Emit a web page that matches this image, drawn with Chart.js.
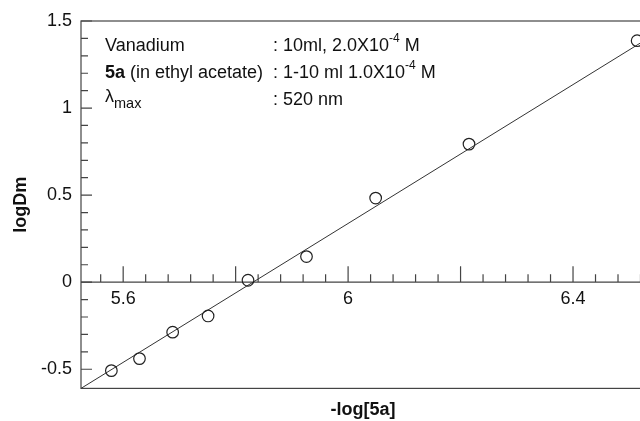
<!DOCTYPE html>
<html>
<head>
<meta charset="utf-8">
<script src="https://cdn.jsdelivr.net/npm/chart.js@4.4.0/dist/chart.umd.min.js"></script>
<style>
html, body { margin: 0; padding: 0; overflow: hidden; background: #fff; }
canvas { display: block; }
</style>
</head>
<body>
<canvas id="grafico" width="652" height="421"></canvas>
<script>
const xValores = [5.579, 5.629, 5.688, 5.751, 5.822, 5.926, 6.049, 6.215, 6.514]
const yValores = [-0.508, -0.439, -0.287, -0.194, 0.011, 0.147, 0.483, 0.793, 1.387]

// Extremos de la recta de ajuste
const ajusteX = [5.525, 6.528]
const ajusteY = [-0.61, 1.39]

// Etiquetas de los ejes
const xEtiquetas = [5.6, 6, 6.4]
const yEtiquetas = [-0.5, 0, 0.5, 1, 1.5]

const fuente = '"Liberation Sans", Arial, sans-serif'
const colorTexto = '#111'
const colorEje = '#444'

//Plugin para el marco, las marcas de los ejes y el texto
const marco = {
    id: 'marco',
    beforeDatasetsDraw(chart) {
        const { ctx, chartArea: a, scales: { x, y } } = chart
        ctx.save()
        ctx.strokeStyle = colorEje
        ctx.lineWidth = 1.2
        ctx.strokeRect(a.left, a.top, a.right - a.left, a.bottom - a.top)

        // marcas del eje y, hacia adentro
        ctx.beginPath()
        for (let i = -5; i <= 15; i++) {
            const py = y.getPixelForValue(i / 10)
            const largo = i % 5 === 0 ? 11 : 7
            ctx.moveTo(a.left, py)
            ctx.lineTo(a.left + largo, py)
        }
        ctx.stroke()

        // eje x cruzando en logDm = 0
        const y0 = y.getPixelForValue(0)
        ctx.beginPath()
        ctx.moveTo(a.left, y0)
        ctx.lineTo(a.right, y0)
        for (let i = 139; i <= 163; i++) {
            const v = i * 0.04
            if (v < x.min || v > x.max) continue
            const px = x.getPixelForValue(v)
            const largo = i % 5 === 0 ? 16 : 8
            ctx.moveTo(px, y0)
            ctx.lineTo(px, y0 - largo)
        }
        ctx.stroke()

        ctx.fillStyle = colorTexto
        ctx.font = '18px ' + fuente
        ctx.textAlign = 'center'
        ctx.textBaseline = 'alphabetic'
        xEtiquetas.forEach(v => {
            ctx.fillText(String(v), x.getPixelForValue(v), y0 + 22)
        })
        ctx.restore()
    },
    afterDraw(chart) {
        const { ctx } = chart
        ctx.save()
        ctx.fillStyle = colorTexto
        ctx.textAlign = 'left'
        ctx.textBaseline = 'alphabetic'
        const normal = '18px ' + fuente
        const chica = '12px ' + fuente

        const escribir = (texto, px, py, font) => {
            ctx.font = font
            ctx.fillText(texto, px, py)
            return px + ctx.measureText(texto).width
        }

        const col1 = 105
        const col2 = 273

        // linea 1
        escribir('Vanadium', col1, 51, normal)
        let px = escribir(': 10ml, 2.0X10', col2, 51, normal)
        px = escribir('-4', px, 42, chica)
        escribir(' M', px, 51, normal)

        // linea 2
        px = escribir('5a', col1, 78, 'bold 18px ' + fuente)
        escribir(' (in ethyl acetate)', px, 78, normal)
        px = escribir(': 1-10 ml 1.0X10', col2, 78, normal)
        px = escribir('-4', px, 69, chica)
        escribir(' M', px, 78, normal)

        // linea 3
        px = escribir('\u03bb', col1, 102, normal)
        escribir('max', px, 108, '14.5px ' + fuente)
        escribir(': 520 nm', col2, 105, normal)
        ctx.restore()
    }
}

const ctx = document.querySelector('#grafico').getContext('2d')

new Chart(ctx, {
    type: 'scatter',
    data: {
        datasets: [
            {
                type: 'line',
                data: ajusteX.map((v, i) => ({ x: v, y: ajusteY[i] })),
                borderColor: '#333',
                borderWidth: 1,
                pointRadius: 0,
                fill: false,
                order: 2
            },
            {
                data: xValores.map((v, i) => ({ x: v, y: yValores[i] })),
                pointRadius: 5.8,
                pointBorderColor: '#222',
                pointBackgroundColor: 'rgba(0,0,0,0)',
                pointBorderWidth: 1.2,
                order: 1
            }
        ]
    },
    options: {
        responsive: false,
        animation: false,
        layout: { padding: { top: 21, right: 0, bottom: 0, left: 0 } },
        plugins: {
            legend: { display: false },
            tooltip: { enabled: false }
        },
        scales: {
            x: {
                type: 'linear',
                min: 5.525,
                max: 6.528,
                grid: { display: false, drawTicks: false },
                border: { display: false },
                ticks: { display: false },
                title: {
                    display: true,
                    text: '-log[5a]',
                    color: colorTexto,
                    font: { family: fuente, size: 18, weight: 'bold' },
                    padding: { top: 11, bottom: 0 }
                }
            },
            y: {
                min: -0.61,
                max: 1.5,
                grid: { display: false, drawTicks: false },
                border: { display: false },
                afterBuildTicks: s => { s.ticks = yEtiquetas.map(v => ({ value: v })) },
                afterFit: s => { s.width = 81 },
                ticks: {
                    color: colorTexto,
                    font: { family: fuente, size: 18 },
                    padding: 9,
                    callback: v => String(v)
                },
                title: {
                    display: true,
                    text: 'logDm',
                    color: colorTexto,
                    font: { family: fuente, size: 18, weight: 'bold' },
                    padding: { top: 10, bottom: 0 }
                }
            }
        }
    },
    plugins: [marco]
})
</script>
</body>
</html>
